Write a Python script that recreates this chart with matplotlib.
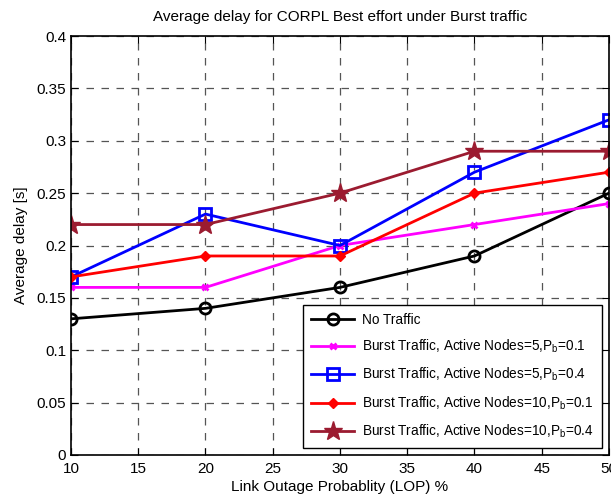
import matplotlib
matplotlib.use("Agg")
import matplotlib.pyplot as plt

plt.rcParams['font.family'] = ['Liberation Sans', 'DejaVu Sans']

lop = [10, 20, 30, 40, 50]
no_traffic = [0.13, 0.14, 0.16, 0.19, 0.25]
burst_5_01 = [0.16, 0.16, 0.20, 0.22, 0.24]
burst_5_04 = [0.17, 0.23, 0.20, 0.27, 0.32]
burst_10_01 = [0.17, 0.19, 0.19, 0.25, 0.27]
burst_10_04 = [0.22, 0.22, 0.25, 0.29, 0.29]

labels = ["No Traffic",
          r"Burst Traffic, Active Nodes=5,P$_\mathregular{b}$=0.1",
          r"Burst Traffic, Active Nodes=5,P$_\mathregular{b}$=0.4",
          r"Burst Traffic, Active Nodes=10,P$_\mathregular{b}$=0.1",
          r"Burst Traffic, Active Nodes=10,P$_\mathregular{b}$=0.4"]
xticks = [10, 15, 20, 25, 30, 35, 40, 45, 50]
yticks = [0, 0.05, 0.1, 0.15, 0.2, 0.25, 0.3, 0.35, 0.4]
ytick_labels = ["0", "0.05", "0.1", "0.15", "0.2", "0.25", "0.3", "0.35", "0.4"]

fig = plt.figure(figsize=(6.11, 5.0), dpi=100)
ax = fig.add_axes([0.1162, 0.09, 0.8805, 0.838])

ax.plot(lop, no_traffic, color='black', lw=2, marker='o', ms=8, mfc='none', mew=2, label=labels[0])
ax.plot(lop, burst_5_01, color='#ff00ff', lw=2, marker='x', ms=5, mew=2, label=labels[1])
ax.plot(lop, burst_5_04, color='#0000ff', lw=2, marker='s', ms=9, mfc='none', mew=2, label=labels[2])
ax.plot(lop, burst_10_01, color='#ff0000', lw=2, marker='D', ms=5, label=labels[3])
ax.plot(lop, burst_10_04, color='#9b1b30', lw=2, marker='*', ms=14, label=labels[4])

ax.set_xlim(10, 50)
ax.set_ylim(0, 0.4)
ax.set_xticks(xticks)
ax.set_xticklabels([str(v) for v in xticks])
ax.set_yticks(yticks)
ax.set_yticklabels(ytick_labels)
ax.grid(True, linestyle=(0, (6, 6)), color='#555555', lw=0.9)
ax.tick_params(direction='in', top=True, right=True, labelsize=11, length=5)
ax.tick_params(axis='x', pad=5)
for s in ax.spines.values():
    s.set_linewidth(1.2)

ax.set_title("Average delay for CORPL Best effort under Burst traffic", fontsize=11, pad=11)
ax.set_xlabel("Link Outage Probablity (LOP) %", fontsize=11, labelpad=3)
ax.set_ylabel("Average delay [s]", fontsize=11, labelpad=6)

leg = ax.legend(loc='lower right', fontsize=9.8, fancybox=False, framealpha=1,
                edgecolor='black', handlelength=3.2, borderpad=0.6, labelspacing=0.8,
                borderaxespad=0.5, handletextpad=0.6)
leg.get_frame().set_linewidth(1.0)

fig.savefig("out.png", dpi=100)
